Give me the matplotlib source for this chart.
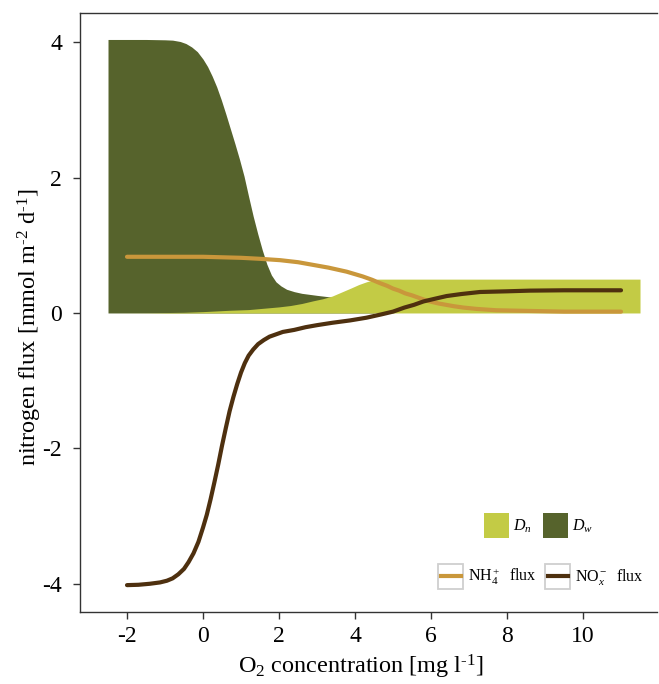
import matplotlib
matplotlib.use("Agg")
import matplotlib.pyplot as plt
from matplotlib.patches import Patch, Rectangle
from matplotlib.lines import Line2D
from matplotlib.legend_handler import HandlerBase

plt.rcParams['font.family'] = ['Liberation Serif', 'DejaVu Serif']
plt.rcParams['mathtext.fontset'] = 'custom'
plt.rcParams['mathtext.rm'] = 'Liberation Serif'
plt.rcParams['mathtext.it'] = 'Liberation Serif:italic'
plt.rcParams['axes.unicode_minus'] = False

# Denitrification (water column) ribbon
dw_x = [-2.5, -1.5, -1.0, -0.8, -0.6, -0.45, -0.3, -0.15, 0.0, 0.12, 0.24, 0.36, 0.48, 0.6,
        0.72, 0.84, 0.96, 1.08, 1.2, 1.32, 1.44, 1.56, 1.68, 1.8, 1.92, 2.05, 2.2, 2.4, 2.6,
        2.8, 3.0, 3.3, 3.7, 4.0, 4.5]
dw_y = [4.04, 4.04, 4.035, 4.03, 4.01, 3.98, 3.93, 3.86, 3.75, 3.64, 3.50, 3.34, 3.15, 2.94,
        2.72, 2.50, 2.27, 2.02, 1.72, 1.43, 1.17, 0.93, 0.72, 0.56, 0.46, 0.40, 0.35, 0.315, 0.29,
        0.275, 0.26, 0.24, 0.22, 0.20, 0.18]

# Denitrification (nitrification-coupled) ribbon
dn_x = [-2.5, -1.5, -0.5, 0.0, 0.7, 1.2, 1.6, 2.0, 2.3, 2.6, 2.9, 3.15, 3.4, 3.65, 3.9, 4.1,
        4.3, 4.45, 4.6, 11.5]
dn_y = [0.0, 0.002, 0.01, 0.02, 0.04, 0.05, 0.07, 0.09, 0.11, 0.14, 0.18, 0.21, 0.25, 0.31, 0.37, 0.42,
        0.46, 0.485, 0.50, 0.50]

# NH4+ flux
nh4_x = [-2, 0, 1, 1.5, 2.03, 2.5, 2.9, 3.3, 3.78, 4.2, 4.45, 4.66, 4.85, 5.0, 5.16, 5.32,
         5.5, 5.65, 5.8, 5.97, 6.2, 6.4, 6.6, 6.85, 7.2, 7.72, 8.6, 9.5, 11]
nh4_y = [0.83, 0.83, 0.815, 0.80, 0.78, 0.75, 0.71, 0.67, 0.61, 0.54, 0.49, 0.44, 0.40, 0.36, 0.33, 0.29,
         0.26, 0.23, 0.20, 0.17, 0.14, 0.12, 0.10, 0.08, 0.06, 0.04, 0.03, 0.02, 0.02]

# NOx- flux
nox_x = [-2, -1.7, -1.4, -1.13, -0.95, -0.8, -0.65, -0.5, -0.38, -0.25, -0.12, 0.0, 0.1, 0.2,
         0.3, 0.4, 0.5, 0.6, 0.7, 0.8, 0.9, 1.0, 1.1, 1.2, 1.32, 1.45, 1.6, 1.75, 1.9, 2.1,
         2.4, 2.7, 3.0, 3.4, 3.87, 4.3, 4.7, 5.0, 5.3, 5.55, 5.8, 6.1, 6.41, 6.8, 7.29, 8.0,
         8.6, 9.5, 11]
nox_y = [-4.02, -4.015, -4.0, -3.98, -3.955, -3.92, -3.86, -3.78, -3.68, -3.55, -3.38, -3.17, -2.98, -2.75,
         -2.50, -2.24, -1.96, -1.70, -1.45, -1.24, -1.05, -0.88, -0.74, -0.63, -0.54, -0.46, -0.40, -0.35, -0.32, -0.28,
         -0.25, -0.21, -0.18, -0.145, -0.11, -0.07, -0.02, 0.02, 0.08, 0.12, 0.17, 0.21, 0.25, 0.28, 0.31, 0.32,
         0.33, 0.335, 0.335]

x_ticks = [-2, 0, 2, 4, 6, 8, 10]
y_ticks = [-4, -2, 0, 2, 4]

c_dn = '#C3CB45'
c_dw = '#56632C'
c_nh4 = '#C9973B'
c_nox = '#4E300F'


class BoxedLine(HandlerBase):
    def create_artists(self, legend, orig, xd, yd, w, h, fs, trans):
        r = Rectangle((-xd, -yd), w, h, facecolor='white', edgecolor='#CFCFCF', lw=1.3,
                      transform=trans)
        ln = Line2D([-xd + 0.1 * w, -xd + 0.9 * w], [-yd + h / 2, -yd + h / 2],
                    color=orig.get_color(), lw=3, transform=trans)
        return [r, ln]


fig = plt.figure(figsize=(6.59, 6.84), dpi=100)
ax = fig.add_axes([80/659, 1-612/684, 577/659, 599/684])

ax.fill_between(dw_x, 0, dw_y, color=c_dw, lw=0)
ax.fill_between(dn_x, 0, dn_y, color=c_dn, lw=0)
ax.plot(nh4_x, nh4_y, color=c_nh4, lw=3, solid_capstyle='round')
ax.plot(nox_x, nox_y, color=c_nox, lw=3, solid_capstyle='round')

ax.set_xlim(-3.237, 11.947)
ax.set_ylim(-4.417, 4.431)
ax.set_xticks(x_ticks)
ax.set_yticks(y_ticks)
ax.tick_params(direction='out', length=5, width=1, color='#333333', labelsize=17)
ax.tick_params(axis='x', pad=5)
ax.tick_params(axis='y', pad=8)
for s in ['left', 'top', 'bottom']:
    ax.spines[s].set_color('#333333')
    ax.spines[s].set_linewidth(1)
ax.spines['right'].set_visible(False)

ax.set_xlabel('O$_2$ concentration [mg l$^{\\mathrm{\u2010}1}$]', fontsize=17.5)
ax.set_ylabel('nitrogen flux [mmol m$^{\\mathrm{\u2010}2}$ d$^{\\mathrm{\u2010}1}$]', fontsize=17.5)
ax.xaxis.set_label_coords(0.487, -0.068)
ax.yaxis.set_label_coords(-0.062, 0.476)

fs = 11.5
hl = 1.56
hh = 2.03
h1 = [Patch(facecolor=c_dn, edgecolor='none'), Patch(facecolor=c_dw, edgecolor='none')]
leg1 = ax.legend(h1, ['$D_n$', '$D_w$'], ncol=2, frameon=False, loc='center',
                 bbox_to_anchor=(0.794, 0.1436), fontsize=fs, handlelength=hl, handleheight=hh,
                 handletextpad=0.25, columnspacing=0.7, borderpad=0, borderaxespad=0)
ax.add_artist(leg1)

l1 = Line2D([], [], color=c_nh4, lw=3)
l2 = Line2D([], [], color=c_nox, lw=3)
leg2 = ax.legend([l1, l2], ['NH$_4^+$  flux', 'NO$_x^-$  flux'], ncol=2,
                 frameon=False, loc='center', bbox_to_anchor=(0.799, 0.060), fontsize=fs,
                 handlelength=hl, handleheight=hh, handletextpad=0.3, columnspacing=0.55,
                 borderpad=0, borderaxespad=0, handler_map={Line2D: BoxedLine()})

fig.savefig('out.png', dpi=100)
